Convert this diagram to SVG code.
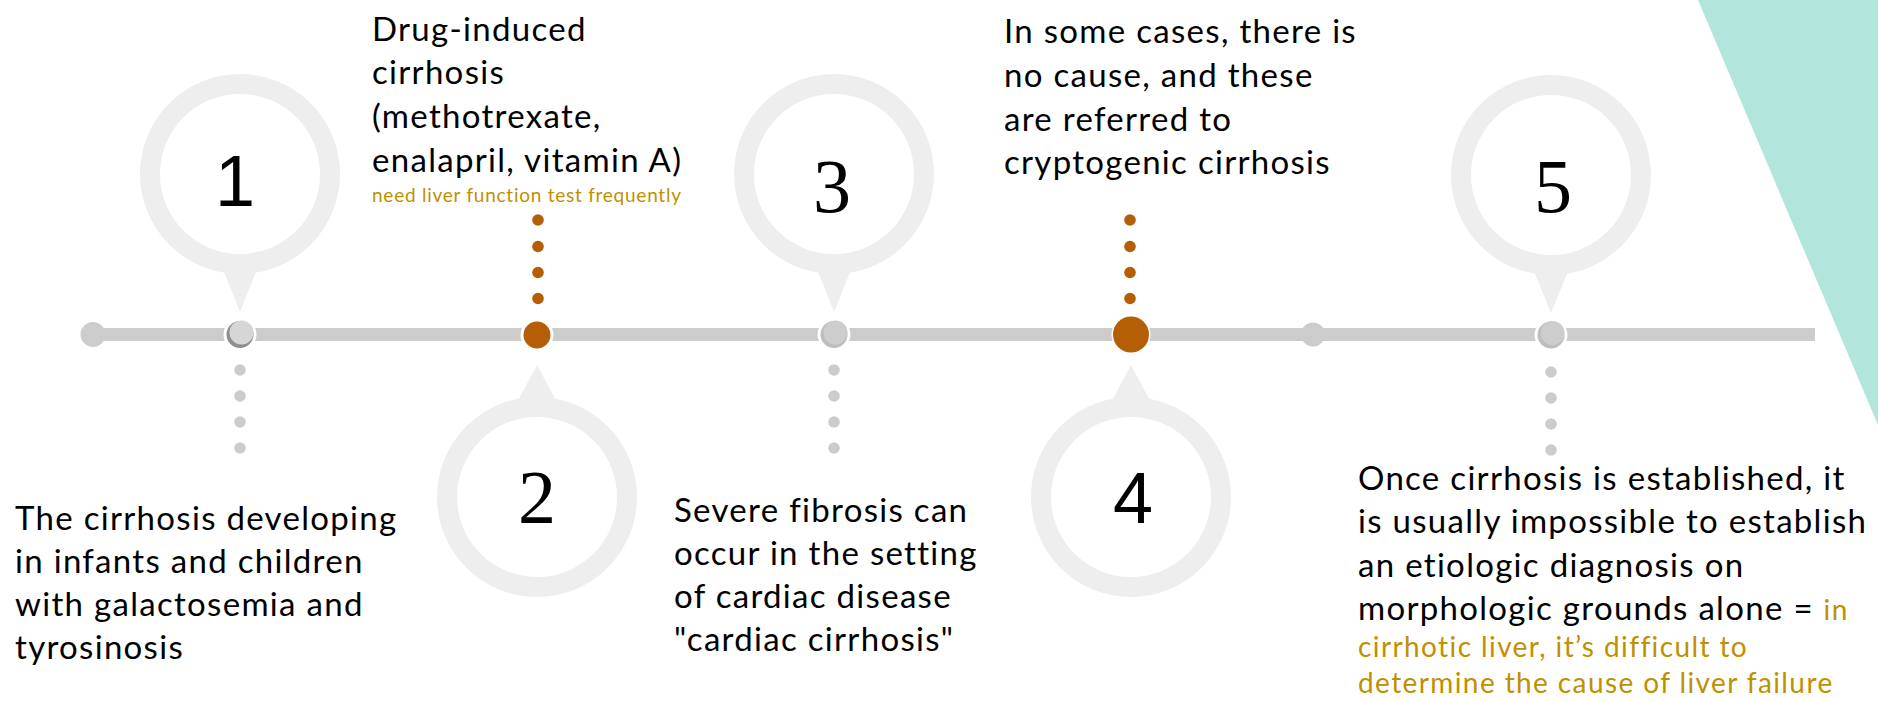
<svg xmlns="http://www.w3.org/2000/svg" width="1878" height="701" viewBox="0 0 1878 701">
<style>
.body{font-family:Lato,"Noto Sans","Liberation Sans",sans-serif;font-size:33px;letter-spacing:1.3px;fill:#000}
.gold{fill:#bf9000}
.note{font-family:Lato,"Noto Sans","Liberation Sans",sans-serif;font-size:19px;letter-spacing:0.75px;fill:#bf9000}
.gnote{font-size:28px;letter-spacing:1.4px}
.num{font-family:"Liberation Serif",serif;font-size:76px;fill:#000;text-anchor:middle}
.nums{font-family:"Liberation Sans",sans-serif;font-size:72px;fill:#000;text-anchor:middle}
.ring{fill:#fff;stroke:#eeeeee;stroke-width:20}
.tip{fill:#eeeeee}
.gdot{fill:#cccccc}
.odot{fill:#b45f06}
.halo{fill:#fff}
</style>
<rect width="1878" height="701" fill="#fff"/>
<polygon points="1698,0 1878,0 1878,425" fill="#b2e6dd"/>

<g id="connectors">
<line x1="93" y1="334.5" x2="1815" y2="334.5" stroke="#cccccc" stroke-width="13"/>
<circle cx="93" cy="334.5" r="12.5" class="gdot"/>
<circle cx="1313" cy="334.5" r="12" class="gdot"/>
</g>

<g id="node-1">
<polygon class="tip" points="220,262 260,262 240,312"/>
<circle class="ring" cx="240" cy="174" r="90"/>
<text class="nums" x="235" y="206">1</text>
<circle class="halo" cx="240" cy="334.5" r="16.5"/>
<circle cx="240" cy="334.5" r="13.5" fill="#8e8e8e"/>
<circle cx="241.5" cy="332.5" r="12" fill="#d6d6d6"/>
<circle class="gdot" cx="240" cy="370" r="5.8"/>
<circle class="gdot" cx="240" cy="396" r="5.8"/>
<circle class="gdot" cx="240" cy="422" r="5.8"/>
<circle class="gdot" cx="240" cy="448" r="5.8"/>
<text class="body"><tspan x="15" y="530">The cirrhosis developing</tspan><tspan x="15" y="573">in infants and children</tspan><tspan x="15" y="616">with galactosemia and</tspan><tspan x="15" y="659">tyrosinosis</tspan></text>
</g>

<g id="node-2">
<polygon class="tip" points="537,365 561,410 513,410"/>
<circle class="ring" cx="537" cy="497" r="90"/>
<text class="num" x="537" y="523">2</text>
<circle class="halo" cx="537" cy="335" r="16.5"/>
<circle class="odot" cx="537" cy="335" r="13.5"/>
<circle class="odot" cx="538" cy="220" r="5.8"/>
<circle class="odot" cx="538" cy="246.5" r="5.8"/>
<circle class="odot" cx="538" cy="272.5" r="5.8"/>
<circle class="odot" cx="538" cy="298.5" r="5.8"/>
<text class="body"><tspan x="372" y="41">Drug-induced</tspan><tspan x="372" y="84">cirrhosis</tspan><tspan x="372" y="128">(methotrexate,</tspan><tspan x="372" y="172">enalapril, vitamin A)</tspan></text>
<text class="note" x="372" y="202">need liver function test frequently</text>
</g>

<g id="node-3">
<polygon class="tip" points="814,262 854,262 834,312"/>
<circle class="ring" cx="834" cy="174" r="90"/>
<text class="num" x="832" y="212">3</text>
<circle class="halo" cx="834" cy="334.5" r="16.5"/>
<circle cx="834" cy="334.5" r="13.5" fill="#bdbdbd"/>
<circle cx="835.5" cy="332.5" r="12" fill="#cdcdcd"/>
<circle class="gdot" cx="834" cy="370" r="5.8"/>
<circle class="gdot" cx="834" cy="396" r="5.8"/>
<circle class="gdot" cx="834" cy="422" r="5.8"/>
<circle class="gdot" cx="834" cy="448" r="5.8"/>
<text class="body"><tspan x="674" y="522">Severe fibrosis can</tspan><tspan x="674" y="565">occur in the setting</tspan><tspan x="674" y="608">of cardiac disease</tspan><tspan x="674" y="651">"cardiac cirrhosis"</tspan></text>
</g>

<g id="node-4">
<polygon class="tip" points="1131,365 1155,410 1107,410"/>
<circle class="ring" cx="1131" cy="497" r="90"/>
<text class="nums" x="1133" y="523">4</text>
<circle class="halo" cx="1131" cy="334.5" r="19.5"/>
<circle class="odot" cx="1131" cy="334.5" r="18"/>
<circle class="odot" cx="1130" cy="220" r="5.8"/>
<circle class="odot" cx="1130" cy="246.5" r="5.8"/>
<circle class="odot" cx="1130" cy="272.5" r="5.8"/>
<circle class="odot" cx="1130" cy="298.5" r="5.8"/>
<text class="body"><tspan x="1004" y="43">In some cases, there is</tspan><tspan x="1004" y="87">no cause, and these</tspan><tspan x="1004" y="131">are referred to</tspan><tspan x="1004" y="174">cryptogenic cirrhosis</tspan></text>
</g>

<g id="node-5">
<polygon class="tip" points="1531,264 1571,264 1551,313"/>
<circle class="ring" cx="1551" cy="175" r="90"/>
<text class="num" x="1553" y="212">5</text>
<circle class="halo" cx="1551" cy="335" r="16.5"/>
<circle cx="1551" cy="335" r="13.5" fill="#bdbdbd"/>
<circle cx="1552.5" cy="333" r="12" fill="#cdcdcd"/>
<circle class="gdot" cx="1551" cy="372" r="5.8"/>
<circle class="gdot" cx="1551" cy="398" r="5.8"/>
<circle class="gdot" cx="1551" cy="424" r="5.8"/>
<circle class="gdot" cx="1551" cy="450" r="5.8"/>
<text class="body"><tspan x="1358" y="490">Once cirrhosis is established, it</tspan><tspan x="1358" y="533">is usually impossible to establish</tspan><tspan x="1358" y="577">an etiologic diagnosis on</tspan><tspan x="1358" y="620">morphologic grounds alone = </tspan><tspan class="gold gnote">in</tspan></text>
<text class="body gold gnote"><tspan x="1358" y="657">cirrhotic liver, it’s difficult to</tspan><tspan x="1358" y="693">determine the cause of liver failure</tspan></text>
</g>
</svg>
